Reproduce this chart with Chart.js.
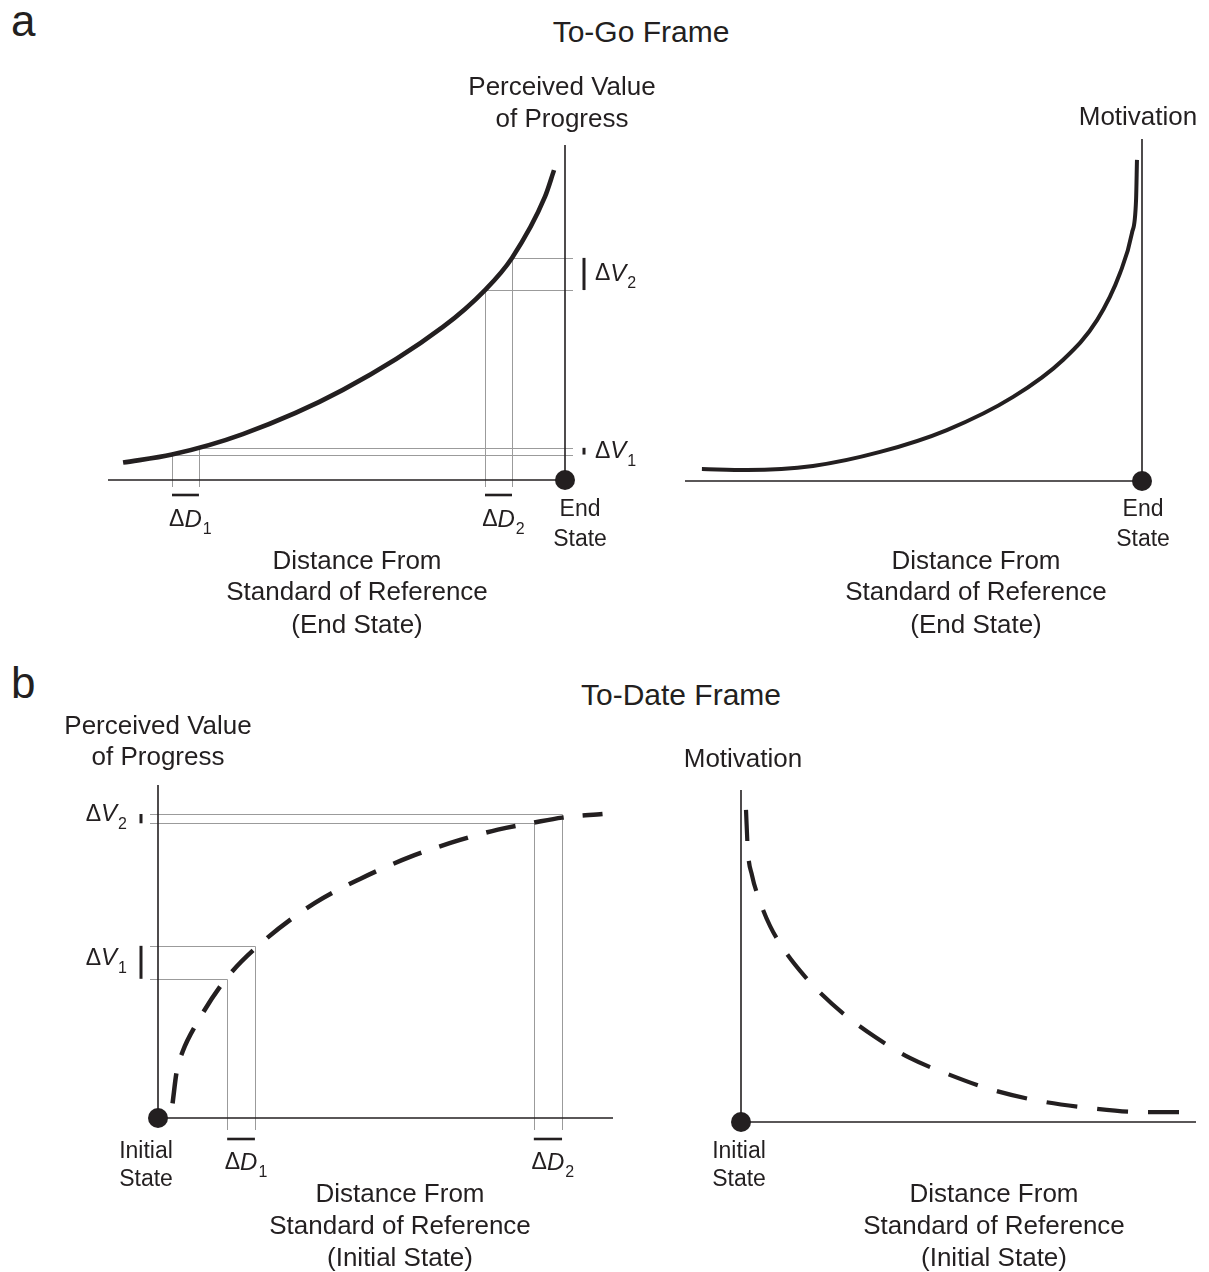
<!DOCTYPE html>
<html>
<head>
<meta charset="utf-8">
<script src="https://cdn.jsdelivr.net/npm/chart.js@4.4.1/dist/chart.umd.min.js"></script>
<style>
  body { margin: 0; background: #fff; }
  #page { position: relative; width: 1209px; height: 1272px; overflow: hidden;
          font-family: "Liberation Sans", Arial, sans-serif; color: #231f20; }
  #page canvas { position: absolute; }
  .t { position: absolute; line-height: 1; white-space: nowrap; }
</style>
</head>
<body>
<div id="page">
  <div class="t" style="left:11px;top:-1px;font-size:44px">a</div>
  <div class="t" style="left:441px;top:17px;width:400px;text-align:center;font-size:30px">To-Go Frame</div>
  <div class="t" style="left:11px;top:661px;font-size:44px">b</div>
  <div class="t" style="left:481px;top:680px;width:400px;text-align:center;font-size:30px">To-Date Frame</div>
  <canvas id="goValue" width="680" height="610" style="left:0;top:50px"></canvas>
  <canvas id="goMotivation" width="569" height="610" style="left:640px;top:50px"></canvas>
  <canvas id="dateValue" width="640" height="572" style="left:0;top:700px"></canvas>
  <canvas id="dateMotivation" width="569" height="572" style="left:640px;top:700px"></canvas>
</div>
<script>
(() => {
  // distance from the standard of reference (0..100) and curve height (0..100)
  // to-go frame: distance from end state
  const goDist  = [96.7, 86.0, 70.5, 48.6, 26.7, 17.5, 11.6, 4.4, 2.4];
  const goValue = [5.2, 7.6, 13.7, 26.9, 45.7, 56.7, 66.3, 84.5, 92.5];
  const goMotDist    = [96.3, 86.4, 72.0, 57.3, 42.7, 28.2, 17.3, 9.8, 4.8, 2.2, 1.3, 1.1];
  const goMotivation = [3.5, 3.2, 4.4, 8.5, 14.9, 24.6, 35.4, 47.1, 60.8, 72.5, 82.2, 93.9];

  // to-date frame: distance from initial state
  const dateDist  = [3.2, 4.1, 5.4, 8.5, 14.9, 23.0, 34.5, 44.4, 55.4, 66.4, 74.7, 82.6, 88.8, 97.7];
  const dateValue = [4.4, 13.9, 19.9, 28.4, 41.7, 52.9, 64.6, 71.8, 78.4, 83.5, 86.6, 88.7, 90.2, 91.3];
  const dateMotDist    = [1.1, 1.5, 2.4, 4.2, 6.4, 9.5, 13.0, 17.4, 22.9, 29.5, 37.1, 45.9, 54.7, 65.7, 76.7, 87.7, 96.9];
  const dateMotivation = [94.0, 81.9, 74.4, 66.3, 59.0, 51.8, 45.5, 38.9, 32.2, 25.6, 19.3, 14.2, 9.9, 6.3, 4.2, 3.0, 3.0];

  // delta D / delta V read-offs (pairs of distance and value)
  const goGuideDist    = [[86.0, 80.1], [17.5, 11.6]];
  const goGuideValue   = [[7.6, 9.6], [56.7, 66.3]];
  const dateGuideDist  = [[15.2, 21.3], [82.6, 88.8]];
  const dateGuideValue = [[41.8, 51.7], [88.5, 91.3]];
  const guideSubs = ["1", "2"];

  const INK = "#231f20";
  const GUIDE = "#9b9b9b";
  const FONT = '"Liberation Sans", Arial, sans-serif';

  const zip = (xs, ys) => xs.map((x, i) => ({ x, y: ys[i] }));

  function seg(ctx, x1, y1, x2, y2) {
    ctx.beginPath(); ctx.moveTo(x1, y1); ctx.lineTo(x2, y2); ctx.stroke();
  }
  const crisp = (v) => Math.round(v) + 0.5;

  // "ΔD₁" style label; y is the middle of the main text
  function deltaLabel(ctx, x, y, letter, sub, align) {
    const big = `23px ${FONT}`, ital = `italic 24px ${FONT}`, small = `16px ${FONT}`;
    ctx.font = big; const wD = ctx.measureText("\u0394").width;
    ctx.font = ital; const wL = ctx.measureText(letter).width;
    ctx.font = small; const wS = ctx.measureText(sub).width;
    let x0 = x;
    if (align === "center") x0 = x - (wD + wL) / 2;
    if (align === "right") x0 = x - (wD + wL + 1 + wS);
    ctx.textAlign = "left"; ctx.textBaseline = "middle";
    ctx.font = big; ctx.fillText("\u0394", x0, y);
    ctx.font = ital; ctx.fillText(letter, x0 + wD, y);
    ctx.font = small; ctx.fillText(sub, x0 + wD + wL + 1, y + 10);
  }

  const framePlugin = {
    id: "frame",
    beforeDatasetsDraw(chart, args, o) {
      const { ctx, chartArea: a, scales: { x, y } } = chart;
      const ax = x.getPixelForValue(0), ay = y.getPixelForValue(0);
      const s = o.side;
      ctx.save();
      ctx.lineCap = "butt";
      if (o.guideDist) {
        ctx.strokeStyle = GUIDE; ctx.lineWidth = 1;
        o.guideDist.forEach((pair, i) => {
          pair.forEach((d, j) => {
            const px = crisp(x.getPixelForValue(d));
            const py = crisp(y.getPixelForValue(o.guideValue[i][j]));
            seg(ctx, px, py, px, ay + o.tickDrop);
            seg(ctx, px, py, ax + s * o.tickReach, py);
          });
        });
      }
      ctx.strokeStyle = INK; ctx.lineWidth = 1.6;
      seg(ctx, a.left, ay, a.right, ay);
      seg(ctx, ax, a.top, ax, ay);
      if (o.guideDist) {
        ctx.lineWidth = 2.6;
        o.guideDist.forEach((pair) => {
          seg(ctx, x.getPixelForValue(pair[0]), ay + o.barDrop, x.getPixelForValue(pair[1]), ay + o.barDrop);
        });
        ctx.lineWidth = 3;
        o.guideValue.forEach((pair) => {
          seg(ctx, ax + s * o.barReach, y.getPixelForValue(pair[0]), ax + s * o.barReach, y.getPixelForValue(pair[1]));
        });
      }
      ctx.restore();
    },
    afterDatasetsDraw(chart, args, o) {
      const { ctx, scales: { x, y } } = chart;
      const ax = x.getPixelForValue(0), ay = y.getPixelForValue(0);
      ctx.save();
      ctx.fillStyle = INK;
      ctx.textAlign = "center"; ctx.textBaseline = "middle";
      o.texts.forEach(([t, px, py, size]) => {
        ctx.font = `${size || 26}px ${FONT}`;
        ctx.fillText(t, px - o.left, py - o.top);
      });
      if (o.guideDist) {
        o.guideDist.forEach((pair, i) => {
          const cx = (x.getPixelForValue(pair[0]) + x.getPixelForValue(pair[1])) / 2;
          deltaLabel(ctx, cx, ay + o.dLabelDrop, "D", guideSubs[i], "center");
        });
        o.guideValue.forEach((pair, i) => {
          const cy = (y.getPixelForValue(pair[0]) + y.getPixelForValue(pair[1])) / 2;
          if (o.side > 0) deltaLabel(ctx, ax + o.barReach + o.vLabelGap, cy, "V", guideSubs[i], "left");
          else deltaLabel(ctx, ax - o.barReach - o.vLabelGap, cy - 4, "V", guideSubs[i], "right");
        });
      }
      ctx.restore();
    },
  };

  function panel(id, p) {
    const canvas = document.getElementById(id);
    const left = parseFloat(canvas.style.left) || 0, top = parseFloat(canvas.style.top) || 0;
    const padding = {
      left: p.box[0] - left, right: left + canvas.width - p.box[1],
      top: p.box[2] - top, bottom: top + canvas.height - p.box[3],
    };
    return new Chart(canvas, {
      type: "line",
      data: {
        datasets: [
          { data: p.curve, borderColor: INK, borderWidth: p.width, borderDash: p.dash || [],
            pointRadius: 0, cubicInterpolationMode: "monotone", fill: false, clip: false },
          { type: "scatter", data: [{ x: 0, y: 0 }], pointRadius: 10, pointBackgroundColor: INK,
            pointBorderWidth: 0, clip: false },
        ],
      },
      options: {
        responsive: false, animation: false, events: [],
        layout: { padding },
        scales: {
          x: { type: "linear", min: 0, max: 100, reverse: p.reverse, display: false },
          y: { type: "linear", min: 0, max: 100, display: false },
        },
        plugins: {
          legend: { display: false }, tooltip: { enabled: false },
          frame: Object.assign({ left, top }, p.frame),
        },
      },
      plugins: [framePlugin],
    });
  }

  panel("goValue", {
    box: [108, 565, 145, 480], reverse: true, width: 4.6,
    curve: zip(goDist, goValue),
    frame: {
      side: 1, guideDist: goGuideDist, guideValue: goGuideValue,
      tickDrop: 7, tickReach: 8, barDrop: 15, barReach: 19, dLabelDrop: 40, vLabelGap: 11,
      texts: [
        ["Perceived Value", 562, 88], ["of Progress", 562, 120],
        ["End", 580, 510, 23], ["State", 580, 540, 23],
        ["Distance From", 357, 562], ["Standard of Reference", 357, 593], ["(End State)", 357, 626],
      ],
    },
  });

  panel("goMotivation", {
    box: [685, 1142, 139, 481], reverse: true, width: 4,
    curve: zip(goMotDist, goMotivation),
    frame: {
      side: 1,
      texts: [
        ["Motivation", 1138, 118],
        ["End", 1143, 510, 23], ["State", 1143, 540, 23],
        ["Distance From", 976, 562], ["Standard of Reference", 976, 593], ["(End State)", 976, 626],
      ],
    },
  });

  panel("dateValue", {
    box: [158, 613, 785, 1118], reverse: false, width: 4.5, dash: [30, 19],
    curve: zip(dateDist, dateValue),
    frame: {
      side: -1, guideDist: dateGuideDist, guideValue: dateGuideValue,
      tickDrop: 12, tickReach: 8, barDrop: 21, barReach: 17, dLabelDrop: 45, vLabelGap: 14,
      texts: [
        ["Perceived Value", 158, 727], ["of Progress", 158, 758],
        ["Initial", 146, 1152, 23], ["State", 146, 1180, 23],
        ["Distance From", 400, 1195], ["Standard of Reference", 400, 1227], ["(Initial State)", 400, 1259],
      ],
    },
  });

  panel("dateMotivation", {
    box: [741, 1196, 790, 1122], reverse: false, width: 4.2, dash: [31, 20],
    curve: zip(dateMotDist, dateMotivation),
    frame: {
      side: -1,
      texts: [
        ["Motivation", 743, 760],
        ["Initial", 739, 1152, 23], ["State", 739, 1180, 23],
        ["Distance From", 994, 1195], ["Standard of Reference", 994, 1227], ["(Initial State)", 994, 1259],
      ],
    },
  });
})();
</script>
</body>
</html>
